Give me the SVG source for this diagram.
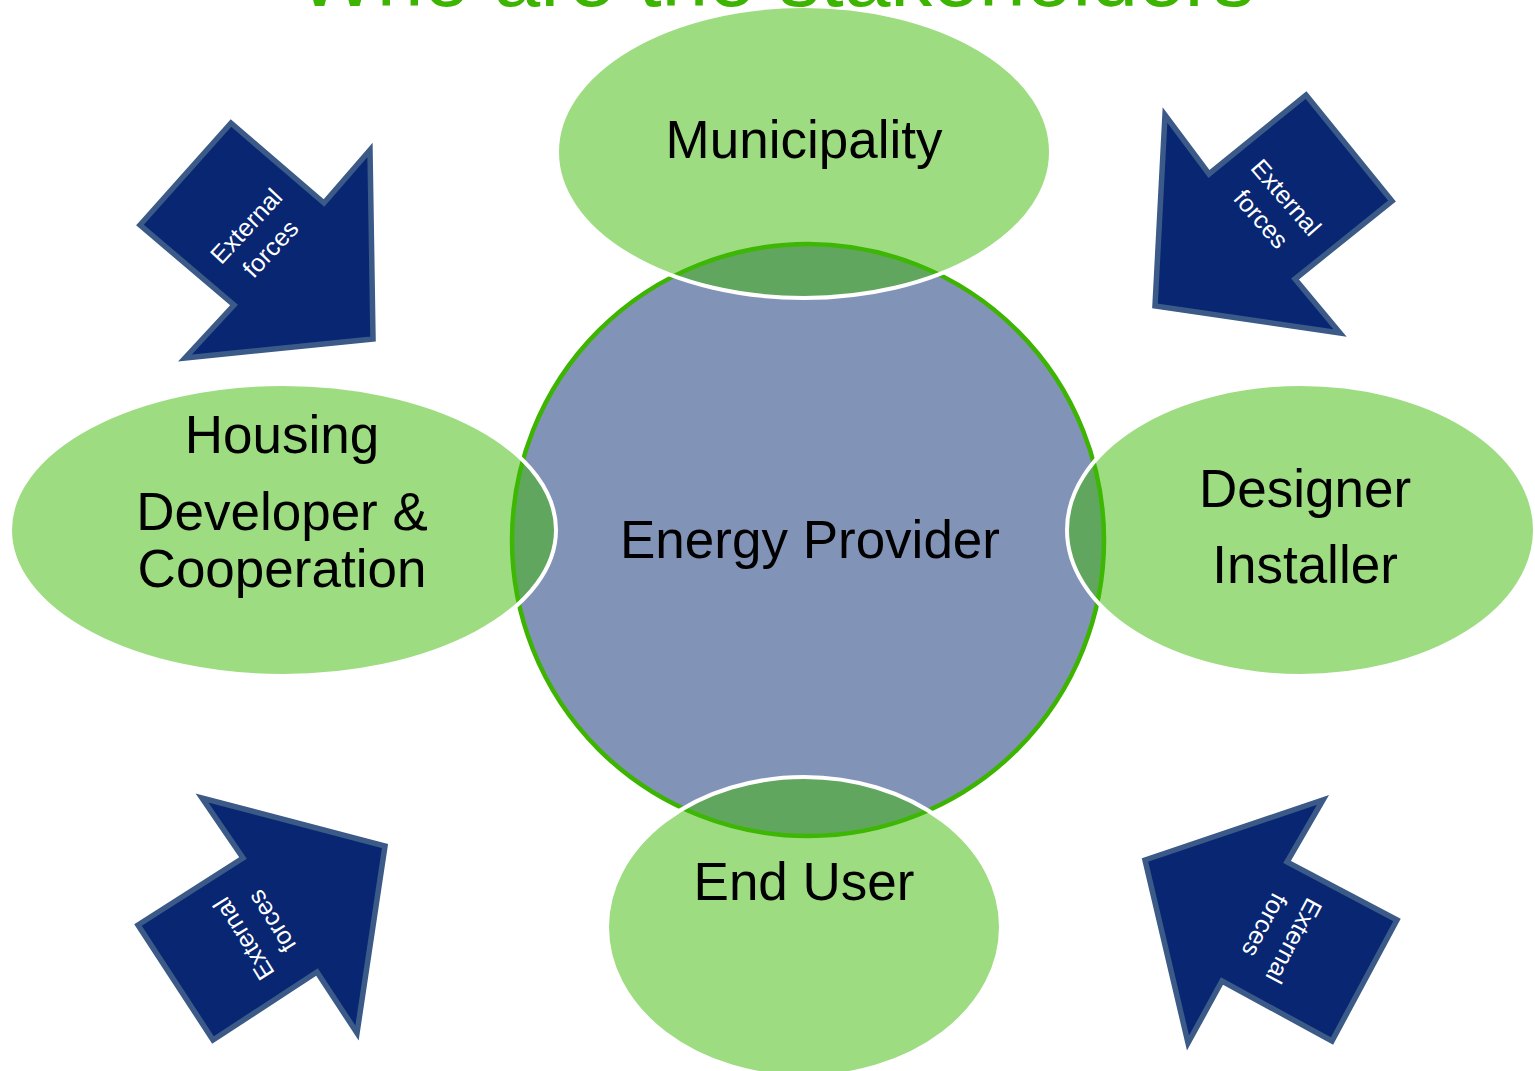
<svg xmlns="http://www.w3.org/2000/svg" width="1535" height="1071" viewBox="0 0 1535 1071">
<style>
.arrow{fill:#082672;stroke:#3b5a88;stroke-width:5.5;stroke-linejoin:miter}
.ell{fill:rgb(61,185,5);fill-opacity:0.5;stroke:#ffffff;stroke-width:4}
.lbl{font-family:"Liberation Sans",Arial,sans-serif;font-size:53px;fill:#000000;text-anchor:middle}
.small{font-family:"Liberation Sans",Arial,sans-serif;font-size:25px;fill:#ffffff;text-anchor:middle}
.title{font-family:"Liberation Sans",Arial,sans-serif;font-size:84px;fill:#3cb400;text-anchor:middle}
</style>
<rect width="1535" height="1071" fill="#ffffff"/>
<g id="arrows">
<g id="arrow-tl">
<polygon class="arrow" points="140,225 231,123 324,203 370,150 373,339 185,358 234,305"/>
<text class="small" transform="translate(257,236) rotate(-47)"><tspan x="0" y="-6">External</tspan><tspan x="0" y="27">forces</tspan></text>
</g>
<g id="arrow-tr">
<polygon class="arrow" points="1306,95 1392,201 1295,279 1340,333 1155,306 1165,115 1209,174"/>
<text class="small" transform="translate(1275,207) rotate(49)"><tspan x="0" y="-6">External</tspan><tspan x="0" y="27">forces</tspan></text>
</g>
<g id="arrow-bl">
<polygon class="arrow" points="213,1040 138,925 243,858 202,798 385,846 357,1033 317,972"/>
<text class="small" transform="translate(256,931) rotate(-122)"><tspan x="0" y="-6">External</tspan><tspan x="0" y="27">forces</tspan></text>
</g>
<g id="arrow-br">
<polygon class="arrow" points="1145,860 1323,800 1287,862 1397,920 1332,1041 1222,981 1188,1043"/>
<text class="small" transform="translate(1281,934) rotate(118)"><tspan x="0" y="-6">External</tspan><tspan x="0" y="27">forces</tspan></text>
</g>
</g>
<g id="energy-provider">
<circle cx="808" cy="540" r="296" fill="#8293b8" stroke="#3cb400" stroke-width="4.5"/>
<text class="lbl" x="810" y="558">Energy Provider</text>
</g>
<g id="municipality">
<ellipse class="ell" cx="804" cy="152" rx="247" ry="146"/>
<text class="lbl" x="804" y="158">Municipality</text>
</g>
<g id="housing">
<ellipse class="ell" cx="283" cy="530" rx="273" ry="146"/>
<text class="lbl" x="282" y="453">Housing</text>
<text class="lbl" x="282" y="530">Developer &amp;</text>
<text class="lbl" x="282" y="587">Cooperation</text>
</g>
<g id="designer">
<ellipse class="ell" cx="1301" cy="530" rx="234" ry="146"/>
<text class="lbl" x="1305" y="507">Designer</text>
<text class="lbl" x="1305" y="583">Installer</text>
</g>
<g id="end-user">
<ellipse class="ell" cx="804" cy="927" rx="197" ry="150"/>
<text class="lbl" x="804" y="900">End User</text>
</g>
<g id="connectors"/>
<text class="title" x="776" y="6">Who are the stakeholders</text>
</svg>
